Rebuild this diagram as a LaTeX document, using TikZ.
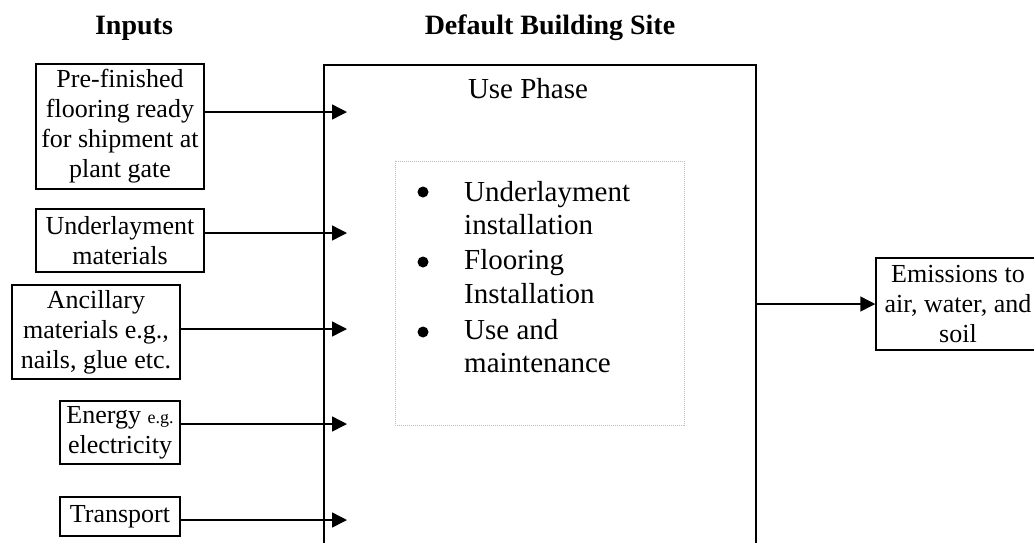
\documentclass[tikz,border=0pt]{standalone}
\usepackage{fontspec}
\setmainfont{Liberation Serif}
\usetikzlibrary{arrows.meta}

\tikzset{
  inbox/.style={draw, line width=1.5pt, inner sep=0pt, align=center,
                font=\fontsize{26}{30}\selectfont},
  flow/.style={line width=1.5pt, -{Triangle[length=15pt,width=15pt]}},
  heading/.style={font=\fontsize{28}{32}\selectfont\bfseries},
  item/.style={anchor=base west, inner sep=0pt, font=\fontsize{29}{34}\selectfont},
}

\begin{document}
\begin{tikzpicture}[x=1pt,y=-1pt]
  \useasboundingbox (0,0) rectangle (1034,542);

  % headings
  \node[heading] (hin) at (134,28) {Inputs};
  \node[heading] (hsite) at (550,28) {Default Building Site};

  % building site box (runs past the lower edge)
  \node[draw, line width=1.5pt, minimum width=432pt, minimum height=495pt, inner sep=0pt]
    (site) at (540,312.5) {};
  \node[font=\fontsize{29}{34}\selectfont] (phase) at (528,89) {Use Phase};

  % activities inside the site
  \node[draw=black!25, line width=1pt, dash pattern=on 1pt off 1pt,
        minimum width=289pt, minimum height=264pt, inner sep=0pt]
    (acts) at (539.5,293) {};
  \node[item] (l1) at (464,201) {Underlayment};
  \node[item] (l2) at (464,234) {installation};
  \node[item] (l3) at (464,269) {Flooring};
  \node[item] (l4) at (464,303) {Installation};
  \node[item] (l5) at (464,339) {Use and};
  \node[item] (l6) at (464,372) {maintenance};
  \foreach \n/\y in {b1/192, b2/262, b3/332}
    \fill (423,\y) circle (5.5pt) coordinate (\n);

  % input boxes
  \node[inbox, minimum width=168pt, minimum height=125pt] (pre) at (120,126.5)
    {Pre-finished\\flooring ready\\for shipment at\\plant gate};
  \node[inbox, minimum width=168pt, minimum height=63pt] (und) at (120,240.5)
    {Underlayment\\materials};
  \node[inbox, minimum width=168pt, minimum height=94pt] (anc) at (96,332)
    {Ancillary\\materials e.g.,\\nails, glue etc.};
  \node[inbox, minimum width=120pt, minimum height=63pt] (ene) at (120,432.5)
    {Energy {\fontsize{18}{20}\selectfont e.g.}\\electricity};
  \node[inbox, minimum width=120pt, minimum height=39pt] (tra) at (120,516.5)
    {Transport};

  % output box (runs past the right edge)
  \node[inbox, minimum width=164pt, minimum height=92pt] (emi) at (958,304)
    {Emissions to\\air, water, and\\soil};

  % arrow tips just inside the site box
  \coordinate (t1) at (347,112);
  \coordinate (t2) at (347,233);
  \coordinate (t3) at (347,329);
  \coordinate (t4) at (347,424);
  \coordinate (t5) at (347,520);

  \draw[flow] (pre.east |- t1) -- (t1);
  \draw[flow] (und.east |- t2) -- (t2);
  \draw[flow] (anc.east |- t3) -- (t3);
  \draw[flow] (ene.east |- t4) -- (t4);
  \draw[flow] (tra.east |- t5) -- (t5);
  \draw[flow] (site.east |- emi.west) -- (emi.west);
\end{tikzpicture}
\end{document}
